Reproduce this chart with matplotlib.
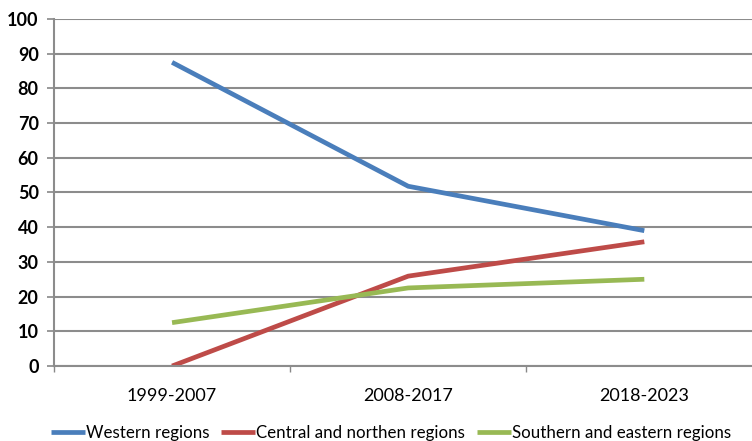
import numpy as np
import matplotlib.pyplot as plt

periods = ['1999-2007', '2008-2017', '2018-2023']
western = [87.5, 51.8, 39.0]
central = [0.0, 25.9, 35.8]
southern = [12.5, 22.5, 25.0]

plt.rcParams['font.family'] = ['Lato', 'DejaVu Sans']

fig = plt.figure(figsize=(7.52, 4.41), dpi=100)
ax = fig.add_axes([0.0718, 0.170, 0.942, 0.787])

x = np.arange(len(periods))
ax.plot(x, western, color='#4a7ebb', lw=3.4, label='Western regions', solid_capstyle='butt')
ax.plot(x, central, color='#be4b48', lw=3.4, label='Central and northen regions', solid_capstyle='butt')
ax.plot(x, southern, color='#98b954', lw=3.4, label='Southern and eastern regions', solid_capstyle='butt')

ax.set_xlim(-0.5, 2.5)
ax.set_ylim(0, 100)
ax.set_yticks(np.arange(0, 101, 10))
ax.set_yticklabels([str(v) for v in range(0, 101, 10)], fontsize=13, fontweight='bold')
ax.set_xticks(x)
ax.set_xticklabels(periods, fontsize=13)
ax.set_xticks([-0.5, 0.5, 1.5, 2.5], minor=True)
ax.tick_params(axis='x', which='major', length=0, pad=16)
ax.tick_params(axis='x', which='minor', length=4, width=1, color='#888888', direction='out')
ax.tick_params(axis='y', length=5, width=1.2, color='#888888', pad=6)

ax.grid(axis='y', color='#8c8c8c', lw=1.5)
ax.set_axisbelow(True)
for s in ['top', 'right']:
    ax.spines[s].set_visible(False)
for s in ['left', 'bottom']:
    ax.spines[s].set_color('#8c8c8c')
    ax.spines[s].set_linewidth(1.5)

fig.legend(loc='lower center', bbox_to_anchor=(0.52, -0.035), ncol=3, frameon=False,
           fontsize=12.2, handlelength=2.0, handletextpad=0.05, columnspacing=0.7)

fig.savefig('out.png', dpi=100)
